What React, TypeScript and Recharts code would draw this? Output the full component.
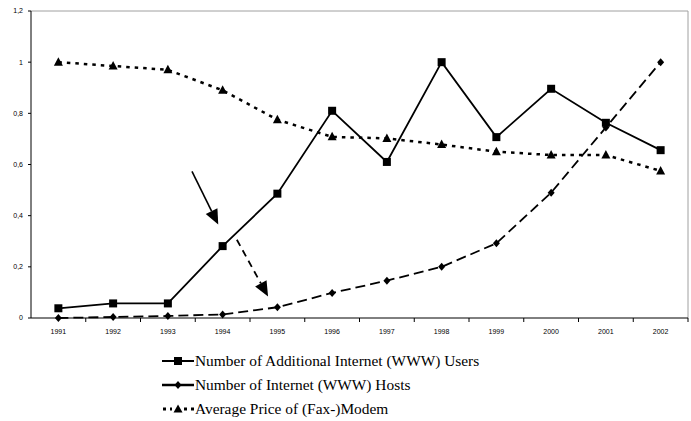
import { LineChart, Line, XAxis, YAxis, ReferenceLine } from 'recharts';

const years = [1991, 1992, 1993, 1994, 1995, 1996, 1997, 1998, 1999, 2000, 2001, 2002];
const users = [0.038, 0.057, 0.057, 0.281, 0.486, 0.81, 0.61, 1.0, 0.707, 0.896, 0.763, 0.656];
const hosts = [0, 0.004, 0.008, 0.014, 0.042, 0.098, 0.146, 0.2, 0.292, 0.49, 0.745, 1.0];
const price = [1.0, 0.985, 0.97, 0.89, 0.775, 0.708, 0.702, 0.678, 0.65, 0.637, 0.637, 0.575];
const yTicks = [0, 0.2, 0.4, 0.6, 0.8, 1, 1.2];
const seriesNames = [
    'Number of Additional Internet (WWW) Users',
    'Number of Internet (WWW) Hosts',
    'Average Price of (Fax-)Modem',
];
// annotation arrows, in data units (year, value)
const arrowSolid = [{ x: 1993.44, y: 0.573 }, { x: 1993.92, y: 0.365 }];
const arrowDashed = [{ x: 1994.26, y: 0.306 }, { x: 1994.83, y: 0.084 }];

const data = years.map((year, i) => ({ year, users: users[i], hosts: hosts[i], price: price[i] }));

const AXIS_FONT = { fontSize: 7, fill: '#000', fontFamily: 'Liberation Sans, Arial, sans-serif' };

const Square = (props: any) => {
    const { cx, cy, index } = props;
    if (cx == null || cy == null) return null;
    return <rect key={`sq${index}`} x={cx - 4} y={cy - 4} width={8} height={8} fill="#000" />;
};

const Diamond = (props: any) => {
    const { cx, cy, index } = props;
    if (cx == null || cy == null) return null;
    return (
        <polygon
            key={`dm${index}`}
            points={`${cx},${cy - 4} ${cx + 3.5},${cy} ${cx},${cy + 4} ${cx - 3.5},${cy}`}
            fill="#000"
        />
    );
};

const Triangle = (props: any) => {
    const { cx, cy, index } = props;
    if (cx == null || cy == null) return null;
    return (
        <polygon
            key={`tr${index}`}
            points={`${cx},${cy - 5} ${cx + 4.5},${cy + 3.5} ${cx - 4.5},${cy + 3.5}`}
            fill="#000"
        />
    );
};

// year label centred in its band, tick mark on the band's right edge (Excel style)
const YearTick = (props: any) => {
    const { x, y, payload, width } = props;
    const half = width ? width / years.length / 2 : 27.4;
    const axisY = y - 11;
    return (
        <g>
            <line x1={x + half} x2={x + half} y1={axisY} y2={axisY + 4} stroke="#000" />
            <text x={x} y={y} dy="0.71em" textAnchor="middle" {...AXIS_FONT}>
                {payload.value}
            </text>
        </g>
    );
};

const arrowShape = (dashed: boolean) => (props: any) => {
    const { x1, y1, x2, y2 } = props;
    const dx = x2 - x1;
    const dy = y2 - y1;
    const len = Math.sqrt(dx * dx + dy * dy) || 1;
    const ux = dx / len;
    const uy = dy / len;
    const headLen = 15;
    const headW = 6.5;
    const bx = x2 - ux * headLen;
    const by = y2 - uy * headLen;
    return (
        <g>
            <line
                x1={x1}
                y1={y1}
                x2={bx}
                y2={by}
                stroke="#000"
                strokeWidth={dashed ? 1.8 : 1.6}
                strokeDasharray={dashed ? '7 5' : undefined}
            />
            <polygon
                points={`${x2},${y2} ${bx - uy * headW},${by + ux * headW} ${bx + uy * headW},${by - ux * headW}`}
                fill="#000"
            />
        </g>
    );
};

const legendIcons = [
    <svg width={32} height={12} key="l0">
        <line x1={0} x2={32} y1={6} y2={6} stroke="#000" strokeWidth={2} />
        <rect x={12} y={2} width={8} height={8} fill="#000" />
    </svg>,
    <svg width={32} height={12} key="l1">
        <line x1={0} x2={32} y1={6} y2={6} stroke="#000" strokeWidth={2.5} />
        <polygon points="16,2 19.5,6 16,10 12.5,6" fill="#000" />
    </svg>,
    <svg width={32} height={12} key="l2">
        <line x1={1} x2={32} y1={6} y2={6} stroke="#000" strokeWidth={3} strokeDasharray="3 4" />
        <rect x={10} y={1} width={12} height={10} fill="#fff" />
        <polygon points="16,1.5 20.5,9.5 11.5,9.5" fill="#000" />
    </svg>,
];

export default function App() {
    return (
        <div style={{ position: 'absolute', left: 0, top: 0, width: 691, height: 421, background: '#fff' }}>
            <LineChart width={691} height={340} data={data} margin={{ top: 11, right: 3, bottom: 0, left: 0 }}>
                <XAxis
                    xAxisId="x"
                    dataKey="year"
                    type="number"
                    domain={[1990.5, 2002.5]}
                    ticks={years}
                    height={22}
                    tickSize={4}
                    tickMargin={7}
                    tickLine={false}
                    axisLine={{ stroke: '#000' }}
                    tick={<YearTick />}
                    interval={0}
                />
                <YAxis
                    yAxisId="y"
                    domain={[0, 1.2]}
                    ticks={yTicks}
                    width={31}
                    tickSize={3}
                    tickMargin={5}
                    axisLine={{ stroke: '#000' }}
                    tickLine={{ stroke: '#000' }}
                    tick={AXIS_FONT}
                    tickFormatter={(v: number) => String(v).replace('.', ',')}
                    interval={0}
                />
                <ReferenceLine xAxisId="x" yAxisId="y" y={1.2} stroke="#a0a0a0" />
                <ReferenceLine xAxisId="x" yAxisId="y" x={2002.5} stroke="#a0a0a0" />
                <Line
                    xAxisId="x"
                    yAxisId="y"
                    dataKey="price"
                    name={seriesNames[2]}
                    stroke="#000"
                    strokeWidth={2.5}
                    strokeDasharray="3.5 5"
                    type="linear"
                    dot={Triangle}
                    isAnimationActive={false}
                />
                <Line
                    xAxisId="x"
                    yAxisId="y"
                    dataKey="hosts"
                    name={seriesNames[1]}
                    stroke="#000"
                    strokeWidth={1.8}
                    strokeDasharray="10 5"
                    type="linear"
                    dot={Diamond}
                    isAnimationActive={false}
                />
                <Line
                    xAxisId="x"
                    yAxisId="y"
                    dataKey="users"
                    name={seriesNames[0]}
                    stroke="#000"
                    strokeWidth={1.8}
                    type="linear"
                    dot={Square}
                    isAnimationActive={false}
                />
                <ReferenceLine xAxisId="x" yAxisId="y" segment={arrowSolid} shape={arrowShape(false)} />
                <ReferenceLine xAxisId="x" yAxisId="y" segment={arrowDashed} shape={arrowShape(true)} />
            </LineChart>

            {/* Legend */}
            <div style={{ position: 'absolute', left: 162, top: 349 }}>
                {seriesNames.map((name, i) => (
                    <div
                        key={name}
                        style={{
                            display: 'flex',
                            alignItems: 'center',
                            height: 24,
                            fontFamily: 'Liberation Serif, Times New Roman, serif',
                            fontSize: 15.4,
                            color: '#000',
                            whiteSpace: 'nowrap',
                        }}
                    >
                        {legendIcons[i]}
                        <span style={{ marginLeft: 1 }}>{name}</span>
                    </div>
                ))}
            </div>
        </div>
    );
}
